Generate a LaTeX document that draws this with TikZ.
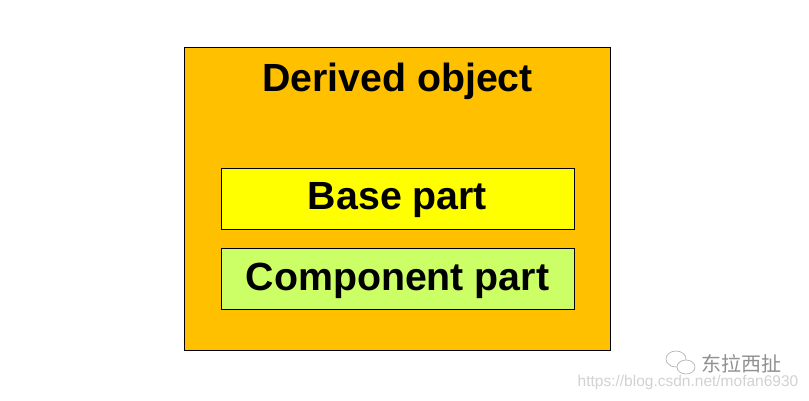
\documentclass[tikz,border=0pt]{standalone}
\usepackage{fontspec}
\setmainfont{Liberation Sans}
\newfontfamily\cjkfont{Noto Sans CJK SC}
\definecolor{outerorange}{HTML}{FFC000}
\definecolor{baseyellow}{HTML}{FFFF00}
\definecolor{compgreen}{HTML}{CCFF66}
\definecolor{wmgray}{HTML}{B4B4B4}
\begin{document}
\begin{tikzpicture}[x=1pt,y=-1pt,
  box/.style={draw=black, line width=0.9pt, inner sep=0pt, anchor=north west},
  lbl/.style={font=\fontsize{39.3}{44}\selectfont\bfseries, inner sep=0pt, anchor=base}]
\useasboundingbox (0,0) rectangle (809,401);
\fill[white] (0,0) rectangle (809,401);
\node[box, fill=outerorange, minimum width=426pt, minimum height=303pt] (outer) at (184,47) {};
\node[lbl] (title) at (397.5,92) {Derived object};
\node[box, fill=baseyellow, minimum width=353pt, minimum height=61pt] (base) at (221,168) {};
\node[lbl] (basetext) at (397.5,210) {Base part};
\node[box, fill=compgreen, minimum width=353pt, minimum height=61pt] (comp) at (221,248) {};
\node[lbl] (comptext) at (397.5,290) {Component part};
% watermark
\begin{scope}[draw=wmgray, line width=0.7pt]
\draw (676,359) ellipse (10pt and 8pt);
\draw[fill=white] (686,367) ellipse (9pt and 7pt);
\end{scope}
\node[font=\cjkfont\fontsize{20}{22}\selectfont, text=wmgray!80!black, inner sep=0pt] (wm1) at (741,364) {东拉西扯};
\node[font=\fontsize{15.5}{17}\selectfont, text=wmgray!60!white, inner sep=0pt] (wm2) at (688,382) {https://blog.csdn.net/mofan6930};
\end{tikzpicture}
\end{document}
